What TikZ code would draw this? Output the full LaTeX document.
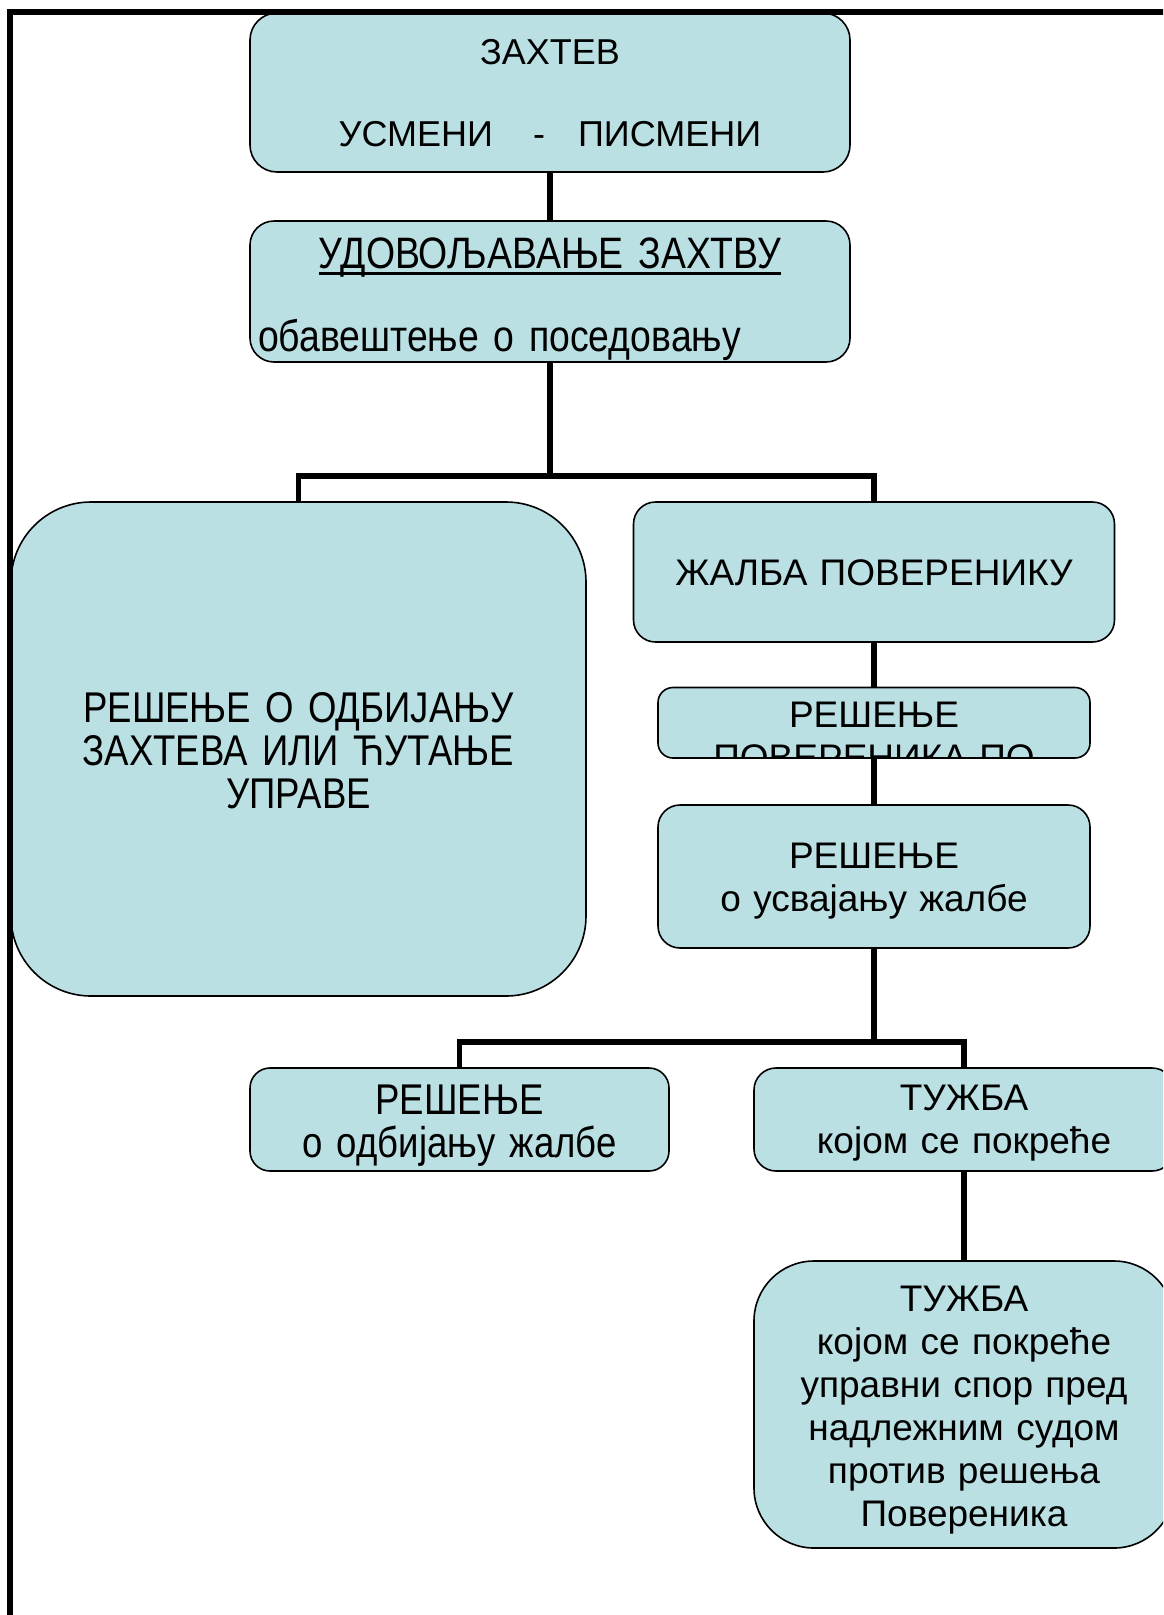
\documentclass[tikz,border=0pt]{standalone}
\usepackage{fontspec}
\setmainfont{Liberation Sans}
\newfontfamily\narrowfont[FakeStretch=0.85]{Liberation Sans}
\newcommand{\underln}[1]{\setbox0\hbox{#1}\rlap{\rule[-6.5pt]{\wd0}{2.5pt}}\box0}
\definecolor{boxblue}{RGB}{187,224,227}

\tikzset{
  box/.style={draw, line width=1.6pt, fill=boxblue, rounded corners=#1,
              inner sep=0pt, anchor=base, align=center},
  box/.default=20pt,
  reg/.style={font=\fontsize{37}{43}\selectfont},
  link/.style={line width=5.5pt},
  frame/.style={line width=5.5pt}
}

\begin{document}
\begin{tikzpicture}[x=1pt,y=-1pt]
  \useasboundingbox (0,0) rectangle (1163,1615);
  \clip (0,0) rectangle (1163,1615);

  % upper part
  \node[box=27pt, font=\fontsize{36}{43}\selectfont, text width=600pt, text height=51.5pt, text depth=107.5pt]
    (zahtev) at (550,64.5)
    {ЗАХТЕВ\\[39pt]УСМЕНИ\hspace{40pt}-\hspace{33pt}ПИСМЕНИ};
  \node[box=24pt, align=left, text width=600pt, text height=47pt, text depth=94pt,
    font=\narrowfont\fontsize{44}{53}\selectfont]
    (udov) at (550,268)
    {\makebox[\linewidth]{\underln{УДОВОЉАВАЊЕ ЗАХТВУ}}\\[30pt]\hspace*{8pt}обавештење о поседовању};

  % left branch
  \node[box=80pt, text width=575pt, text height=220pt, text depth=274pt,
    font=\narrowfont\fontsize{43}{43.3}\selectfont]
    (odbij) at (298.5,722)
    {РЕШЕЊЕ О ОДБИЈАЊУ\\ЗАХТЕВА ИЛИ ЋУТАЊЕ\\УПРАВЕ};

  % right branch
  \node[box=22pt, reg, text width=481pt, text height=83pt, text depth=57pt]
    (zalba) at (874,585) {ЖАЛБА ПОВЕРЕНИКУ};
  \node[box=15pt, text width=432pt, text height=39.5pt, text depth=31pt,
    path picture={\node[reg, anchor=base, align=center, text width=432pt]
      at ([yshift=-39.5pt]path picture bounding box.north) {РЕШЕЊЕ\\ПОВЕРЕНИКА ПО};}]
    (resPov) at (874,727) {};
  \node[box=22pt, reg, text width=432pt, text height=63.5pt, text depth=79.5pt]
    (resUsv) at (874,868.5) {РЕШЕЊЕ\\о усвајању жалбе};

  % lower part
  \node[box=20pt, text width=419pt, text height=46.5pt, text depth=56.5pt,
    font=\narrowfont\fontsize{43}{43}\selectfont]
    (resOdb) at (459.5,1114.5) {РЕШЕЊЕ\\о одбијању жалбе};
  \node[box=22pt, reg, text width=420pt, text height=42pt, text depth=61pt]
    (tuzba) at (964,1110) {ТУЖБА\\којом се покреће};
  \node[box=60pt, reg, text width=420pt, text height=50pt, text depth=237pt]
    (tuzba2) at (964,1311)
    {ТУЖБА\\којом се покреће\\управни спор пред\\надлежним судом\\против решења\\Повереника};

  \coordinate (fork1) at (550,476);
  \coordinate (fork2) at (874,1042);

  \draw[link] (zahtev) -- (udov);
  \draw[link] (udov) -- (fork1);
  \draw[link] (odbij.north) |- (fork1) -| (zalba.north);
  \draw[link] (zalba) -- (resPov);
  \draw[link] (resPov) -- (resUsv);
  \draw[link] (resUsv) -- (fork2);
  \draw[link] (resOdb.north) |- (fork2) -| (tuzba.north);
  \draw[link] (tuzba) -- (tuzba2);

  % page frame
  \draw[frame] (10,1630) |- (1180,12);
\end{tikzpicture}
\end{document}
